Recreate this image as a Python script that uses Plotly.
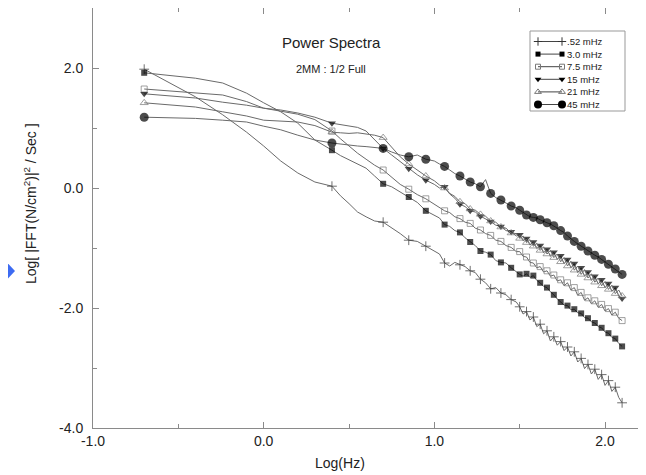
import plotly.graph_objects as go

# ---------------- data ----------------
LOG_HZ = [-0.70, -0.40, -0.24, -0.10, 0.00, 0.10, 0.20, 0.30, 0.40,
          0.45, 0.50, 0.55, 0.60, 0.65, 0.70, 0.75, 0.80, 0.85, 0.90, 0.95, 1.00,
          1.03, 1.06, 1.09, 1.12, 1.15, 1.18, 1.21, 1.24, 1.27, 1.30, 1.33, 1.36,
          1.39, 1.42, 1.45, 1.48,
          1.50, 1.52, 1.54, 1.56, 1.58, 1.60, 1.62, 1.64, 1.66, 1.68, 1.70, 1.72,
          1.74, 1.76, 1.78, 1.80, 1.82, 1.84, 1.86, 1.88, 1.90, 1.92, 1.94, 1.96,
          1.98, 2.00, 2.02, 2.04, 2.06, 2.08, 2.10]

P_052 = [1.98, 1.52, 1.22, 0.93, 0.70, 0.45, 0.25, 0.10, 0.03,
         -0.13, -0.26, -0.40, -0.48, -0.55, -0.57, -0.66, -0.76, -0.87, -0.89, -0.97, -1.05,
         -1.10, -1.25, -1.30, -1.24, -1.28, -1.31, -1.38, -1.41, -1.52, -1.58, -1.68, -1.66,
         -1.75, -1.78, -1.86, -1.90,
         -1.98, -2.10, -2.06, -2.20, -2.15, -2.31, -2.27, -2.43, -2.38, -2.55, -2.48, -2.62,
         -2.56, -2.71, -2.65, -2.80, -2.73, -2.90, -2.84, -3.01, -2.94, -3.10, -3.02, -3.19,
         -3.11, -3.29, -3.21, -3.39, -3.32, -3.49, -3.58]

P_30 = [1.92, 1.83, 1.75, 1.58, 1.42, 1.27, 1.08, 0.80, 0.63,
        0.54, 0.47, 0.40, 0.33, 0.20, 0.07, 0.02, -0.07, -0.15, -0.24, -0.38, -0.45,
        -0.50, -0.61, -0.64, -0.71, -0.74, -0.83, -0.90, -0.96, -1.05, -1.07, -1.11, -1.21,
        -1.24, -1.25, -1.33, -1.40,
        -1.44, -1.47, -1.43, -1.49, -1.46, -1.54, -1.58, -1.64, -1.66, -1.73, -1.78, -1.85,
        -1.90, -1.95, -1.96, -2.03, -2.02, -2.08, -2.09, -2.16, -2.17, -2.23, -2.25, -2.31,
        -2.33, -2.40, -2.42, -2.49, -2.51, -2.59, -2.64]

P_75 = [1.65, 1.59, 1.55, 1.44, 1.33, 1.28, 1.23, 1.14, 0.95,
        0.82, 0.70, 0.58, 0.48, 0.38, 0.30, 0.18, 0.06, -0.02, -0.11, -0.18, -0.27,
        -0.32, -0.38, -0.41, -0.48, -0.51, -0.57, -0.59, -0.67, -0.70, -0.76, -0.79, -0.87,
        -0.89, -0.96, -0.99, -1.06,
        -1.06, -1.14, -1.15, -1.24, -1.25, -1.33, -1.31, -1.40, -1.38, -1.47, -1.45, -1.55,
        -1.53, -1.63, -1.58, -1.70, -1.66, -1.79, -1.74, -1.87, -1.83, -1.93, -1.88, -1.99,
        -1.94, -2.05, -2.01, -2.12, -2.07, -2.17, -2.21]

P_15 = [1.57, 1.50, 1.43, 1.38, 1.33, 1.30, 1.25, 1.18, 1.08,
        1.06, 1.04, 1.01, 0.95, 0.80, 0.66, 0.55, 0.44, 0.32, 0.22, 0.13, 0.06,
        0.00, 0.02, -0.10, -0.17, -0.27, -0.31, -0.38, -0.40, -0.47, -0.51, -0.56, -0.62,
        -0.64, -0.71, -0.73, -0.80,
        -0.78, -0.88, -0.84, -0.95, -0.90, -1.01, -0.96, -1.08, -1.02, -1.14, -1.07, -1.19,
        -1.13, -1.26, -1.19, -1.33, -1.26, -1.41, -1.33, -1.47, -1.40, -1.54, -1.47, -1.60,
        -1.53, -1.66, -1.59, -1.72, -1.66, -1.80, -1.84]

P_21 = [1.42, 1.35, 1.27, 1.20, 1.13, 1.12, 1.10, 1.04, 0.93,
        0.92, 0.91, 0.92, 0.90, 0.88, 0.84, 0.68, 0.52, 0.40, 0.30, 0.20, 0.12,
        0.05, 0.00, -0.09, -0.14, -0.23, -0.26, -0.35, -0.37, -0.44, -0.47, -0.55, -0.57,
        -0.65, -0.67, -0.75, -0.76,
        -0.84, -0.80, -0.91, -0.86, -0.97, -0.92, -1.04, -0.98, -1.10, -1.04, -1.16, -1.10,
        -1.23, -1.16, -1.30, -1.22, -1.37, -1.30, -1.44, -1.36, -1.50, -1.43, -1.57, -1.50,
        -1.63, -1.56, -1.69, -1.62, -1.76, -1.70, -1.80]

P_45 = [1.18, 1.16, 1.13, 1.10, 1.03, 0.97, 0.88, 0.80, 0.75,
        0.73, 0.71, 0.70, 0.69, 0.68, 0.66, 0.60, 0.55, 0.52, 0.55, 0.48, 0.45,
        0.40, 0.36, 0.30, 0.24, 0.20, 0.15, 0.10, 0.07, 0.02, 0.14, -0.09, -0.16,
        -0.20, -0.25, -0.30, -0.33,
        -0.37, -0.41, -0.45, -0.48, -0.49, -0.50, -0.53, -0.56, -0.58, -0.60, -0.63, -0.67,
        -0.71, -0.74, -0.80, -0.85, -0.89, -0.93, -0.97, -1.01, -1.05, -1.09, -1.12, -1.15,
        -1.19, -1.23, -1.27, -1.31, -1.35, -1.39, -1.44]

SERIES_NAMES = [".52 mHz", "3.0 mHz", "7.5 mHz", "15 mHz", "21 mHz", "45 mHz"]
SERIES_VALUES = [P_052, P_30, P_75, P_15, P_21, P_45]

X_TICKS = [-1.0, 0.0, 1.0, 2.0]
X_TICK_LABELS = ["-1.0", "0.0", "1.0", "2.0"]
Y_TICKS = [-4.0, -2.0, 0.0, 2.0]
Y_TICK_LABELS = ["-4.0", "-2.0", "0.0", "2.0"]

# ---------------- styling ----------------
FONT = "Liberation Sans, Arial, Helvetica, sans-serif"
PAGE_OFFSET = 8          # default body margin of the html page
WIN_W, WIN_H = 646, 475  # browser window
FW, FH = WIN_W - PAGE_OFFSET, WIN_H - PAGE_OFFSET

# plot area in window (screen) pixels
SX0, SX1, SY0, SY1 = 93, 646, 8, 428
L = SX0 - PAGE_OFFSET
R = FW - (SX1 - PAGE_OFFSET)
T = SY0 - PAGE_OFFSET
B = FH - (SY1 - PAGE_OFFSET)

X_RANGE = [-1.0, 2.24]
Y_RANGE = [-4.0, 3.0]
AXIS_COLOR = "#8a8a8a"
LINE_COLOR = "#6a6a6a"
TEXT_COLOR = "#222222"

# which x positions carry a marker symbol
MARK_X = {-0.70, 0.40, 0.70, 0.85, 0.95, 1.06, 1.15, 1.21, 1.27, 1.33, 1.39, 1.45,
          1.50, 1.54, 1.58, 1.62, 1.66, 1.70, 1.74, 1.78, 1.82, 1.86, 1.90, 1.94,
          1.98, 2.02, 2.06, 2.10}

STYLES = [
    dict(symbol="cross-thin", size=7, color="#333333", line=dict(width=1, color="#333333")),
    dict(symbol="square", size=6, color="#000000", line=dict(width=0)),
    dict(symbol="square-open", size=6, color="#777777", line=dict(width=1, color="#777777")),
    dict(symbol="triangle-down", size=7, color="#000000", line=dict(width=0)),
    dict(symbol="triangle-up-open", size=7, color="#777777", line=dict(width=1, color="#777777")),
    dict(symbol="circle", size=9, color="#000000", line=dict(width=0)),
]


def sx_to_paper(sx):
    return (sx - SX0) / (SX1 - SX0)


def sy_to_paper(sy):
    return (SY1 - sy) / (SY1 - SY0)


fig = go.Figure()

for name, vals, st in zip(SERIES_NAMES, SERIES_VALUES, STYLES):
    sizes = [st["size"] if round(x, 2) in MARK_X else 0 for x in LOG_HZ]
    fig.add_trace(go.Scatter(
        x=LOG_HZ, y=vals, mode="lines+markers", name=name, showlegend=False,
        line=dict(color=LINE_COLOR, width=1),
        marker=dict(symbol=st["symbol"], size=sizes, color=st["color"], line=st["line"]),
        cliponaxis=False,
    ))

# ---------------- hand-made legend (marker—line—marker, like the original) ----------------
LEG_BOX = (530, 31, 625, 111)  # screen pixels
LEG_ROW0, LEG_STEP = 41.5, 12.6
LEG_X0, LEG_X1, LEG_TX = 538, 562, 565

for i, (name, st) in enumerate(zip(SERIES_NAMES, STYLES)):
    yy = LEG_ROW0 + i * LEG_STEP
    fig.add_trace(go.Scatter(
        x=[LEG_X0, LEG_X1], y=[yy, yy], xaxis="x2", yaxis="y2",
        mode="lines+markers", showlegend=False, hoverinfo="skip",
        line=dict(color="#444444", width=1),
        marker=dict(symbol=st["symbol"], size=st["size"] - 1, color=st["color"], line=st["line"]),
    ))
    fig.add_annotation(x=LEG_TX, y=yy, xref="x2", yref="y2", text=name, showarrow=False,
                       xanchor="left", yanchor="middle",
                       font=dict(family=FONT, size=9.5, color=TEXT_COLOR))

fig.add_shape(type="rect", xref="x2", yref="y2",
              x0=LEG_BOX[0], y0=LEG_BOX[1], x1=LEG_BOX[2], y1=LEG_BOX[3],
              line=dict(color="#999999", width=1), fillcolor="rgba(0,0,0,0)")

# titles
fig.add_annotation(x=sx_to_paper(331), y=sy_to_paper(42), xref="paper", yref="paper",
                   text="Power Spectra", showarrow=False, xanchor="center", yanchor="middle",
                   font=dict(family=FONT, size=15, color=TEXT_COLOR))
fig.add_annotation(x=sx_to_paper(331), y=sy_to_paper(69), xref="paper", yref="paper",
                   text="2MM : 1/2 Full", showarrow=False, xanchor="center", yanchor="middle",
                   font=dict(family=FONT, size=11, color=TEXT_COLOR))

# axis titles
fig.add_annotation(x=sx_to_paper(30), y=sy_to_paper(204), xref="paper", yref="paper",
                   text="Log[ |FFT(N/cm<sup>2</sup>)|<sup>2</sup> / Sec ]", textangle=-90,
                   showarrow=False, xanchor="center", yanchor="middle",
                   font=dict(family=FONT, size=14, color=TEXT_COLOR))
fig.add_annotation(x=sx_to_paper(340), y=sy_to_paper(463), xref="paper", yref="paper",
                   text="Log(Hz)", showarrow=False, xanchor="center", yanchor="middle",
                   font=dict(family=FONT, size=14, color=TEXT_COLOR))

# blue marker at the left edge of the original picture
fig.add_shape(type="path", xref="paper", yref="paper",
              path="M {0},{1} L {2},{3} L {0},{4} Z".format(
                  sx_to_paper(2), sy_to_paper(257), sx_to_paper(15),
                  sy_to_paper(271), sy_to_paper(285)),
              fillcolor="#3d6bf2", line=dict(width=0))

fig.update_layout(
    width=FW, height=FH,
    margin=dict(l=L, r=R, t=T, b=B, pad=0),
    paper_bgcolor="white", plot_bgcolor="white",
    showlegend=False,
    font=dict(family=FONT, size=14, color=TEXT_COLOR),
    xaxis=dict(range=X_RANGE, tickmode="array", tickvals=X_TICKS, ticktext=X_TICK_LABELS,
               ticks="inside", ticklen=6, tickcolor=AXIS_COLOR, tickwidth=1,
               minor=dict(tick0=-1.0, dtick=0.5, ticks="inside", ticklen=4,
                          tickcolor=AXIS_COLOR, showgrid=False),
               showline=True, linecolor=AXIS_COLOR, linewidth=1, mirror="ticks",
               showgrid=False, zeroline=False,
               tickfont=dict(family=FONT, size=14, color=TEXT_COLOR)),
    yaxis=dict(range=Y_RANGE, tickmode="array", tickvals=Y_TICKS, ticktext=Y_TICK_LABELS,
               ticks="inside", ticklen=6, tickcolor=AXIS_COLOR, tickwidth=1,
               minor=dict(tick0=-4.0, dtick=1.0, ticks="inside", ticklen=4,
                          tickcolor=AXIS_COLOR, showgrid=False),
               showline=True, linecolor=AXIS_COLOR, linewidth=1, mirror=False,
               showgrid=False, zeroline=False, ticklabelstandoff=6,
               tickfont=dict(family=FONT, size=14, color=TEXT_COLOR)),
    xaxis2=dict(overlaying="x", anchor="y2", range=[SX0, SX1], visible=False, fixedrange=True),
    yaxis2=dict(overlaying="y", anchor="x2", range=[SY1, SY0], visible=False, fixedrange=True),
)

fig.write_html("out.html")
